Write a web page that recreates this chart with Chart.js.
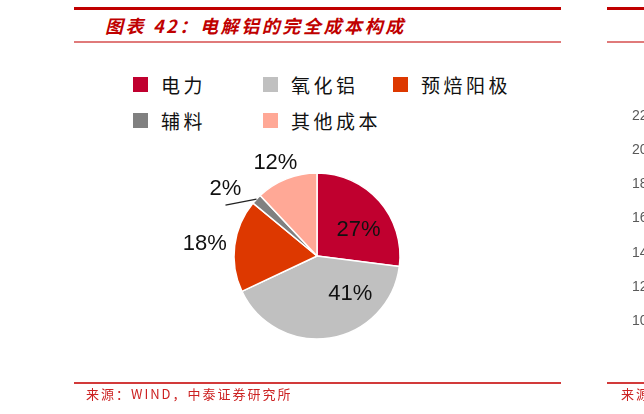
<!DOCTYPE html>
<html lang="zh">
<head>
    <meta charset="UTF-8">
    <title>电解铝的完全成本构成</title>
    <script src="https://cdn.jsdelivr.net/npm/chart.js"></script>
    <style>
        html, body { margin: 0; padding: 0; width: 644px; height: 414px; overflow: hidden; background: #fff; }
        .abs { position: absolute; }
        .thick { height: 3px; background: #c00000; top: 7px; }
        .thin { height: 2px; background: #e07a7a; top: 41px; }
        .foot { height: 2px; background: #d23a3a; top: 382px; }
        #title { left: 105px; top: 14px; font: italic bold 18px "Noto Sans CJK SC", sans-serif; color: #c00000; letter-spacing: 2.6px; line-height: 22px; white-space: nowrap; }
        .src { top: 386px; font: 13px "Noto Sans CJK SC", sans-serif; color: #cc2222; letter-spacing: 2px; line-height: 16px; white-space: nowrap; }
        #legend { left: 133px; top: 71px; display: grid; grid-template-columns: 130px 130px 130px; grid-auto-rows: 36px; }
        .item { display: flex; align-items: center; height: 26px; }
        .box { width: 15px; height: 15px; margin-right: 13px; }
        .lbl { font: 19px "Noto Sans CJK SC", sans-serif; color: #111; letter-spacing: 3.5px; white-space: nowrap; }
    </style>
</head>
<body>
    <div class="abs thick" style="left:74px;width:487px;"></div>
    <div class="abs thin" style="left:74px;width:487px;"></div>
    <div class="abs thick" style="left:607px;width:37px;"></div>
    <div class="abs thin" style="left:607px;width:37px;"></div>
    <div id="title" class="abs">图表 42：电解铝的完全成本构成</div>
    <div id="legend" class="abs"></div>
    <canvas id="chart" class="abs" width="644" height="414" style="left:0;top:0;"></canvas>
    <canvas id="side" class="abs" width="44" height="414" style="left:600px;top:0;"></canvas>
    <div class="abs foot" style="left:74px;width:487px;"></div>
    <div class="abs foot" style="left:607px;width:37px;"></div>
    <div class="abs src" style="left:86px;">来源：WIND，中泰证券研究所</div>
    <div class="abs src" style="left:621px;">来源：WIND</div>

    <script>
        // cost breakdown (%)
        const categories = ['电力', '氧化铝', '预焙阳极', '辅料', '其他成本'];
        const shares = [27, 41, 18, 2, 12];
        const sliceColors = ['#c0002f', '#c0c0c0', '#dd3800', '#808080', '#ffa896'];

        // neighbouring chart, only its axis labels show at the edge
        const sideTicks = [22, 20, 18, 16, 14, 12, 10];

        // legend in 3 columns
        const legend = document.getElementById('legend');
        categories.forEach((name, i) => {
            const el = document.createElement('div');
            el.className = 'item';
            el.innerHTML = '<span class="box" style="background:' + sliceColors[i] + '"></span><span class="lbl">' + name + '</span>';
            legend.appendChild(el);
        });

        // percent labels: big slices inside, small ones outside, tiny ones with a leader
        const pieLabels = {
            id: 'pieLabels',
            afterDatasetsDraw(chart, args, opts) {
                const ctx = chart.ctx;
                const meta = chart.getDatasetMeta(0);
                const values = chart.data.datasets[0].data;
                ctx.save();
                ctx.font = '22px "Liberation Sans", Arial, sans-serif';
                ctx.fillStyle = '#111';
                ctx.textAlign = 'center';
                ctx.textBaseline = 'middle';
                meta.data.forEach((arc, i) => {
                    const p = arc.getProps(['x', 'y', 'startAngle', 'endAngle', 'outerRadius'], true);
                    const shift = (opts.angleShift[i] || 0) * Math.PI / 180;
                    const mid = (p.startAngle + p.endAngle) / 2 + shift;
                    const cos = Math.cos(mid), sin = Math.sin(mid);
                    const text = values[i] + '%';
                    const w = ctx.measureText(text).width;
                    if (values[i] >= 20) {
                        const r = p.outerRadius * 0.6;
                        ctx.fillText(text, p.x + cos * r, p.y + sin * r + 1);
                    } else if (values[i] < 5) {
                        const sx = p.x + cos * p.outerRadius, sy = p.y + sin * p.outerRadius;
                        const ex = sx - 31, ey = sy + 6;
                        ctx.strokeStyle = '#222';
                        ctx.lineWidth = 1.3;
                        ctx.beginPath();
                        ctx.moveTo(sx, sy);
                        ctx.lineTo(ex, ey);
                        ctx.stroke();
                        ctx.fillText(text, ex, ey - 16);
                    } else {
                        const r = p.outerRadius + 8;
                        ctx.fillText(text, p.x + cos * r + cos * w / 2, p.y + sin * r + sin * 9);
                    }
                });
                ctx.restore();
            }
        };

        new Chart(document.getElementById('chart'), {
            type: 'pie',
            data: {
                labels: categories,
                datasets: [{
                    data: shares,
                    backgroundColor: sliceColors,
                    borderColor: '#fff',
                    borderWidth: 1.5,
                    radius: 83
                }]
            },
            options: {
                responsive: false,
                animation: false,
                layout: { padding: { left: 0, right: 10, top: 98, bottom: 0 } },
                plugins: {
                    legend: { display: false },
                    tooltip: { enabled: false },
                    pieLabels: { angleShift: [8, -33, 0, 0, 0] }
                }
            },
            plugins: [pieLabels]
        });

        // mirrored y axis so the labels start near the page edge and run off it
        new Chart(document.getElementById('side'), {
            type: 'line',
            data: { labels: [''], datasets: [{ data: [] }] },
            options: {
                responsive: false,
                animation: false,
                layout: { padding: { top: 116, bottom: 93, left: 23, right: 0 } },
                plugins: { legend: { display: false }, tooltip: { enabled: false } },
                scales: {
                    x: { display: false },
                    y: {
                        min: 10,
                        max: 22,
                        afterBuildTicks: axis => { axis.ticks = sideTicks.map(v => ({ value: v })); },
                        grid: { display: false, drawTicks: false },
                        border: { display: false },
                        ticks: { mirror: true, padding: 3, color: '#595959', font: { family: 'Liberation Sans', size: 14 } }
                    }
                }
            }
        });
    </script>
</body>
</html>
